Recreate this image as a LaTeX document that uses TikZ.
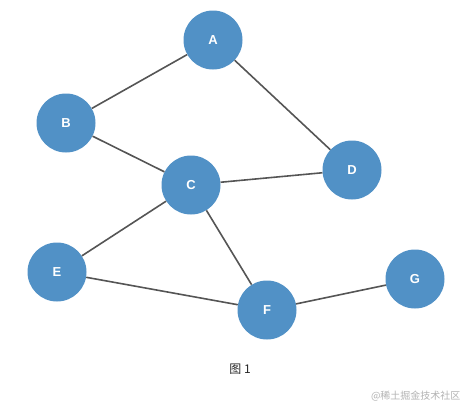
\documentclass[tikz,border=0pt]{standalone}
\usepackage{fontspec}
\setmainfont{Liberation Sans}
\newfontfamily\cjk{Noto Sans CJK SC}
\usetikzlibrary{positioning}
\definecolor{nodeblue}{RGB}{81,145,198}
\definecolor{edgegray}{RGB}{85,85,85}
\tikzset{
  vtx/.style={circle,fill=nodeblue,minimum size=59pt,inner sep=0pt,text=white,font=\bfseries\fontsize{13}{15}\selectfont},
  edg/.style={draw=edgegray,line width=1.6pt},
  captxt/.style={font=\cjk\fontsize{12}{14}\selectfont,text=black!85},
  wmk/.style={font=\cjk\fontsize{10}{12}\selectfont,text=black!30}
}
\begin{document}
\begin{tikzpicture}[x=1pt,y=-1pt]
  \useasboundingbox (0,0) rectangle (467,408);
  % vertices
  \node[vtx] (a) at (213,40) {A};
  \node[vtx] (b) at (66,123) {B};
  \node[vtx] (c) at (191,185) {C};
  \node[vtx] (d) at (352,170) {D};
  \node[vtx] (e) at (57,272) {E};
  \node[vtx] (f) at (267,310) {F};
  \node[vtx] (g) at (415,279) {G};

  % edges
  \draw[edg] (a) -- (b);
  \draw[edg] (a) -- (d);
  \draw[edg] (b) -- (c);
  \draw[edg] (c) -- (d);
  \draw[edg] (c) -- (e);
  \draw[edg] (c) -- (f);
  \draw[edg] (e) -- (f);
  \draw[edg] (f) -- (g);

  \node[captxt] (title) at (240,369) {图 1};
  \node[wmk,anchor=east] (mark) at (464,396) {@稀土掘金技术社区};
\end{tikzpicture}
\end{document}
